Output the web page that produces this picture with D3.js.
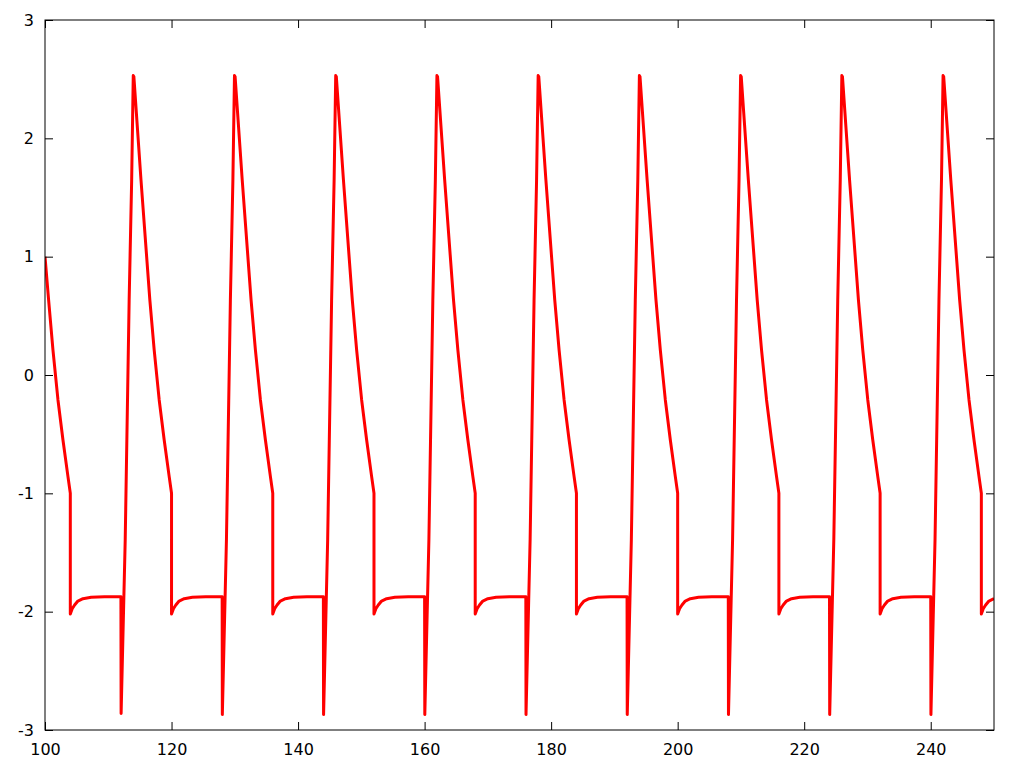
<!DOCTYPE html>
<html>
<head>
<meta charset="utf-8">
<script src="https://cdnjs.cloudflare.com/ajax/libs/d3/7.8.5/d3.min.js"></script>
<style>
    html, body { margin: 0; padding: 0; background: #fff; }
    svg { display: block; }
    .axis text { font-family: "DejaVu Sans", sans-serif; font-size: 16px; fill: #000; }
    .axis path { display: none; }
    .axis line { stroke: #000; stroke-width: 1; }
</style>
</head>
<body>
<svg class="canvas" width="1024" height="768"></svg>
<script>

// tick values
var xTicks = [100, 120, 140, 160, 180, 200, 220, 240];
var yTicks = [-3, -2, -1, 0, 1, 2, 3];
var xDomain = [100, 250];
var yDomain = [-3, 3];

// the signal, one row per period (drop, recovery, spike, decay)
var start = [[100, 1.0], [100.57, 0.634], [101.26, 0.211], [102.05, -0.211], [102.84, -0.549], [103.63, -0.859], [104, -1.0]];

var cycle112 = [[104, -2.02], [104.3, -1.975], [104.68, -1.944], [105.2, -1.91], [106, -1.89], [107.3, -1.879], [109.4, -1.873], [112, -1.873],
    [112.03, -2.86], [112.68, -1.39], [113.3, 0.63], [113.7, 1.65], [113.95, 2.53], [114.05, 2.52], [115.17, 1.65], [116.57, 0.634],
    [117.26, 0.211], [118.05, -0.211], [118.84, -0.549], [119.63, -0.859], [120, -1.0]];

var cycle128 = [[120, -2.02], [120.3, -1.975], [120.68, -1.944], [121.2, -1.91], [122, -1.89], [123.3, -1.879], [125.4, -1.873], [128, -1.873],
    [128.03, -2.87], [128.68, -1.39], [129.3, 0.63], [129.7, 1.65], [129.95, 2.53], [130.05, 2.52], [131.17, 1.65], [132.57, 0.634],
    [133.26, 0.211], [134.05, -0.211], [134.84, -0.549], [135.63, -0.859], [136, -1.0]];

var cycle144 = [[136, -2.02], [136.3, -1.975], [136.68, -1.944], [137.2, -1.91], [138, -1.89], [139.3, -1.879], [141.4, -1.873], [144, -1.873],
    [144.03, -2.87], [144.68, -1.39], [145.3, 0.63], [145.7, 1.65], [145.95, 2.53], [146.05, 2.52], [147.17, 1.65], [148.57, 0.634],
    [149.26, 0.211], [150.05, -0.211], [150.84, -0.549], [151.63, -0.859], [152, -1.0]];

var cycle160 = [[152, -2.02], [152.3, -1.975], [152.68, -1.944], [153.2, -1.91], [154, -1.89], [155.3, -1.879], [157.4, -1.873], [160, -1.873],
    [160.03, -2.87], [160.68, -1.39], [161.3, 0.63], [161.7, 1.65], [161.95, 2.53], [162.05, 2.52], [163.17, 1.65], [164.57, 0.634],
    [165.26, 0.211], [166.05, -0.211], [166.84, -0.549], [167.63, -0.859], [168, -1.0]];

var cycle176 = [[168, -2.02], [168.3, -1.975], [168.68, -1.944], [169.2, -1.91], [170, -1.89], [171.3, -1.879], [173.4, -1.873], [176, -1.873],
    [176.03, -2.87], [176.68, -1.39], [177.3, 0.63], [177.7, 1.65], [177.95, 2.53], [178.05, 2.52], [179.17, 1.65], [180.57, 0.634],
    [181.26, 0.211], [182.05, -0.211], [182.84, -0.549], [183.63, -0.859], [184, -1.0]];

var cycle192 = [[184, -2.02], [184.3, -1.975], [184.68, -1.944], [185.2, -1.91], [186, -1.89], [187.3, -1.879], [189.4, -1.873], [192, -1.873],
    [192.03, -2.87], [192.68, -1.39], [193.3, 0.63], [193.7, 1.65], [193.95, 2.53], [194.05, 2.52], [195.17, 1.65], [196.57, 0.634],
    [197.26, 0.211], [198.05, -0.211], [198.84, -0.549], [199.63, -0.859], [200, -1.0]];

var cycle208 = [[200, -2.02], [200.3, -1.975], [200.68, -1.944], [201.2, -1.91], [202, -1.89], [203.3, -1.879], [205.4, -1.873], [208, -1.873],
    [208.03, -2.87], [208.68, -1.39], [209.3, 0.63], [209.7, 1.65], [209.95, 2.53], [210.05, 2.52], [211.17, 1.65], [212.57, 0.634],
    [213.26, 0.211], [214.05, -0.211], [214.84, -0.549], [215.63, -0.859], [216, -1.0]];

var cycle224 = [[216, -2.02], [216.3, -1.975], [216.68, -1.944], [217.2, -1.91], [218, -1.89], [219.3, -1.879], [221.4, -1.873], [224, -1.873],
    [224.03, -2.87], [224.68, -1.39], [225.3, 0.63], [225.7, 1.65], [225.95, 2.53], [226.05, 2.52], [227.17, 1.65], [228.57, 0.634],
    [229.26, 0.211], [230.05, -0.211], [230.84, -0.549], [231.63, -0.859], [232, -1.0]];

var cycle240 = [[232, -2.02], [232.3, -1.975], [232.68, -1.944], [233.2, -1.91], [234, -1.89], [235.3, -1.879], [237.4, -1.873], [240, -1.873],
    [240.03, -2.87], [240.68, -1.39], [241.3, 0.63], [241.7, 1.65], [241.95, 2.53], [242.05, 2.52], [243.17, 1.65], [244.57, 0.634],
    [245.26, 0.211], [246.05, -0.211], [246.84, -0.549], [247.63, -0.859], [248, -1.0]];

var tail = [[248, -2.02], [248.3, -1.975], [248.68, -1.944], [249.2, -1.91], [250, -1.89]];

var signal = [].concat(start, cycle112, cycle128, cycle144, cycle160, cycle176, cycle192, cycle208, cycle224, cycle240, tail);

const canvas = d3.select('.canvas');

var margin = {left: 45, right: 30, top: 20, bottom: 38};
var width = 1024 - margin.left - margin.right;
var height = 768 - margin.top - margin.bottom;

var x = d3.scaleLinear()
    .domain(xDomain)
    .range([0, width]);

var y = d3.scaleLinear()
    .domain(yDomain)
    .range([height, 0]);

// plain labels with an ascii minus, like gnuplot
var plain = function(d) { return String(d); };

const g = canvas.append('g')
    .attr('transform', 'translate(' + margin.left + ',' + margin.top + ')');

g.append('clipPath')
    .attr('id', 'clip')
    .append('rect')
    .attr('width', width)
    .attr('height', height);

// the curve
var line = d3.line()
    .x(function(d) { return x(d[0]); })
    .y(function(d) { return y(d[1]); });

g.append('path')
    .datum(signal)
    .attr('clip-path', 'url(#clip)')
    .attr('fill', 'none')
    .attr('stroke', '#ff0000')
    .attr('stroke-width', 3)
    .attr('stroke-linejoin', 'round')
    .attr('d', line);

// axes, ticks point inward
g.append('g')
    .attr('class', 'axis')
    .attr('transform', 'translate(0,' + height + ')')
    .call(d3.axisBottom(x).tickValues(xTicks).tickFormat(plain).tickSizeInner(-8).tickSizeOuter(0).tickPadding(14));

g.append('g')
    .attr('class', 'axis')
    .call(d3.axisTop(x).tickValues(xTicks).tickSizeInner(-8).tickSizeOuter(0).tickFormat(''));

g.append('g')
    .attr('class', 'axis')
    .call(d3.axisLeft(y).tickValues(yTicks).tickFormat(plain).tickSizeInner(-8).tickSizeOuter(0).tickPadding(11));

g.append('g')
    .attr('class', 'axis')
    .attr('transform', 'translate(' + width + ',0)')
    .call(d3.axisRight(y).tickValues(yTicks).tickSizeInner(-8).tickSizeOuter(0).tickFormat(''));

// frame
g.append('rect')
    .attr('width', width)
    .attr('height', height)
    .attr('fill', 'none')
    .attr('stroke', '#000')
    .attr('stroke-width', 1);

</script>
</body>
</html>
